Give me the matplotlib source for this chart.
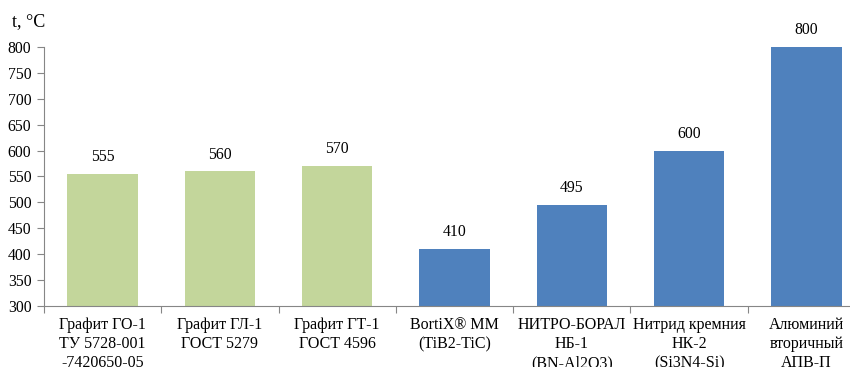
import numpy as np
import matplotlib.pyplot as plt

plt.rcParams['font.family'] = ['Liberation Serif', 'DejaVu Serif']

labels = ['Графит ГО-1\nТУ 5728-001\n-7420650-05',
          'Графит ГЛ-1\nГОСТ 5279',
          'Графит ГТ-1\nГОСТ 4596',
          'BortiX® MM\n(TiB2-TiC)',
          'НИТРО-БОРАЛ\nНБ-1\n(BN-Al2O3)',
          'Нитрид кремния\nНК-2\n(Si3N4-Si)',
          'Алюминий\nвторичный\nАПВ-П']
temps = [555, 560, 570, 410, 495, 600, 800]
colors = ['#C3D69B'] * 3 + ['#4F81BD'] * 4

fig = plt.figure(figsize=(8.5, 3.67), dpi=100)
ax = fig.add_axes([44 / 850, 1 - 306 / 367, 821 / 850, 259 / 367])

x = np.arange(len(temps))
ax.bar(x, temps, width=0.6, color=colors, bottom=0)
for xi, t in zip(x, temps):
    ax.text(xi, t + 17, str(t), ha='center', va='bottom', fontsize=11.3)

ax.set_ylim(300, 800)
ax.set_xlim(-0.5, len(temps) - 0.5)
ax.set_yticks(np.arange(300, 801, 50))
ax.set_xticks(np.arange(-0.5, len(temps), 1.0), minor=False)
ax.set_xticklabels([])
ax.set_xticks(x, minor=True)
ax.set_xticklabels(labels, minor=True, fontsize=11.5, linespacing=1.25)
ax.tick_params(axis='x', which='minor', length=0, pad=8)
ax.tick_params(axis='x', which='major', length=5, color='#868686', direction='out')
ax.tick_params(axis='y', length=5, color='#868686', labelsize=11.3, pad=4)

for s in ['top', 'right']:
    ax.spines[s].set_visible(False)
for s in ['left', 'bottom']:
    ax.spines[s].set_color('#868686')

fig.text(12 / 850, 1 - 22 / 367, 't, °C', fontsize=13, va='center')

fig.savefig('out.png', dpi=100)
